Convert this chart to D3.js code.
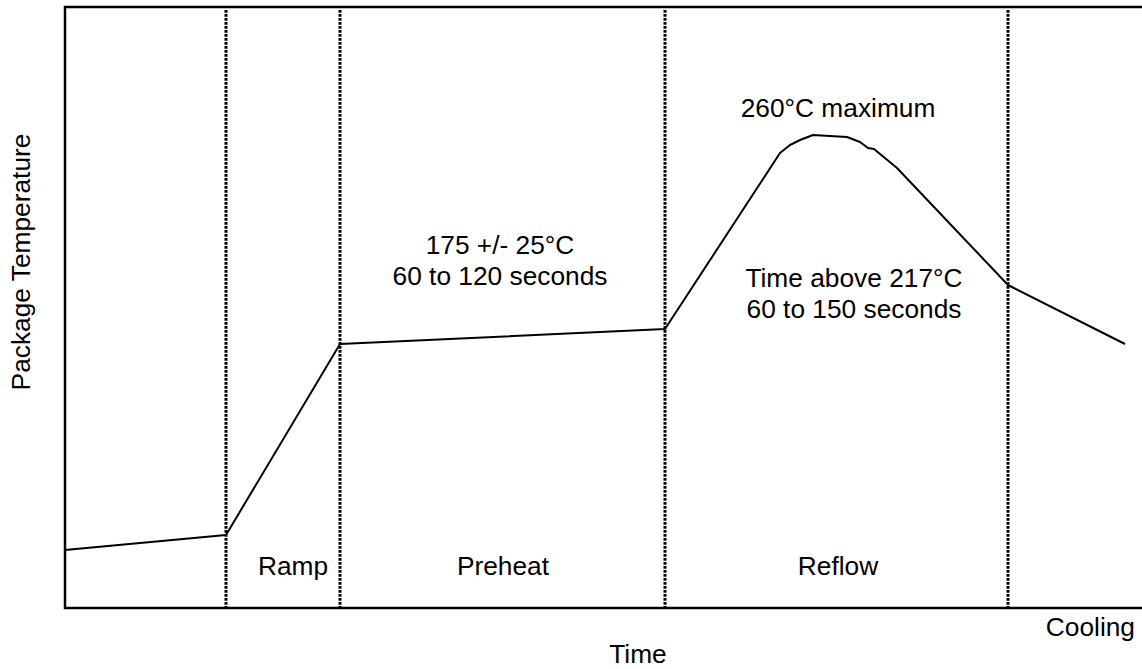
<!DOCTYPE html>
<html>
<head>
<meta charset="utf-8">
<script src="https://cdn.jsdelivr.net/npm/d3@7"></script>
<style>
  body { margin: 0; background: #fff; }
  svg { display: block; }
</style>
</head>
<body>
<svg id="chart"></svg>
<script>
// reflow profile, arbitrary units (time / temperature are not scaled in the source)
const profileTime = [0, 161, 275, 600, 715, 725, 735, 748, 782, 795, 803, 809, 832, 943, 1060];
const profileTemp = [58, 73, 264, 279, 455, 463, 468, 473, 471, 466, 460, 459, 440, 323, 264];

// phase boundaries (dotted verticals) and their labels
const phaseBounds = [161, 275, 600, 943];
const phaseLabels = ["Ramp", "Preheat", "Reflow"];
const phaseLabelTime = [228, 438, 773];

const notes = [
    { t: 773, v: 491, lines: ["260°C maximum"] },
    { t: 435, v: 354, lines: ["175 +/- 25°C", "60 to 120 seconds"] },
    { t: 789, v: 321, lines: ["Time above 217°C", "60 to 150 seconds"] },
];

const W = 1142, H = 669;
const margin = { top: 7, right: 0, bottom: 61, left: 65 };
const fontFamily = "'Liberation Sans', Arial, Helvetica, sans-serif";
const fontSize = 26.3;

const svg = d3.select("#chart").attr("width", W).attr("height", H);

const x = d3.scaleLinear().domain([0, 1077]).range([margin.left, W - margin.right]);
const y = d3.scaleLinear().domain([0, 601]).range([H - margin.bottom, margin.top]);

// frame: left, top, bottom
const frame = svg.append("g")
    .attr("stroke", "#000")
    .attr("stroke-width", 2.5)
    .attr("fill", "none");
frame.append("path")
    .attr("d", `M${W},${y(601)}H${x(0)}V${y(0)}H${W}`);

// dotted phase boundaries
svg.append("g")
    .selectAll("line")
    .data(phaseBounds)
    .join("line")
    .attr("x1", d => x(d)).attr("x2", d => x(d))
    .attr("y1", y(598)).attr("y2", y(0))
    .attr("stroke", "#000")
    .attr("stroke-width", 3)
    .attr("stroke-dasharray", "2.8,1.2");

// temperature profile
const line = d3.line()
    .x((d, i) => x(profileTime[i]))
    .y(d => y(d));

svg.append("path")
    .datum(profileTemp)
    .attr("fill", "none")
    .attr("stroke", "#000")
    .attr("stroke-width", 2)
    .attr("stroke-linejoin", "round")
    .attr("d", line);

const text = svg.append("g")
    .attr("font-family", fontFamily)
    .attr("font-size", fontSize)
    .attr("fill", "#000")
    .attr("text-anchor", "middle");

text.selectAll(".phase")
    .data(phaseLabels)
    .join("text")
    .attr("class", "phase")
    .attr("x", (d, i) => x(phaseLabelTime[i]))
    .attr("y", y(33))
    .text(d => d);

notes.forEach(n => {
    n.lines.forEach((s, i) => {
        text.append("text")
            .attr("x", x(n.t))
            .attr("y", y(n.v) + i * 31)
            .text(s);
    });
});

// axis titles
text.append("text")
    .attr("text-anchor", "end")
    .attr("x", W - 7)
    .attr("y", 636)
    .text("Cooling");

text.append("text")
    .attr("x", 638)
    .attr("y", 663)
    .text("Time");

text.append("text")
    .attr("transform", "translate(30,262) rotate(-90)")
    .text("Package Temperature");
</script>
</body>
</html>
